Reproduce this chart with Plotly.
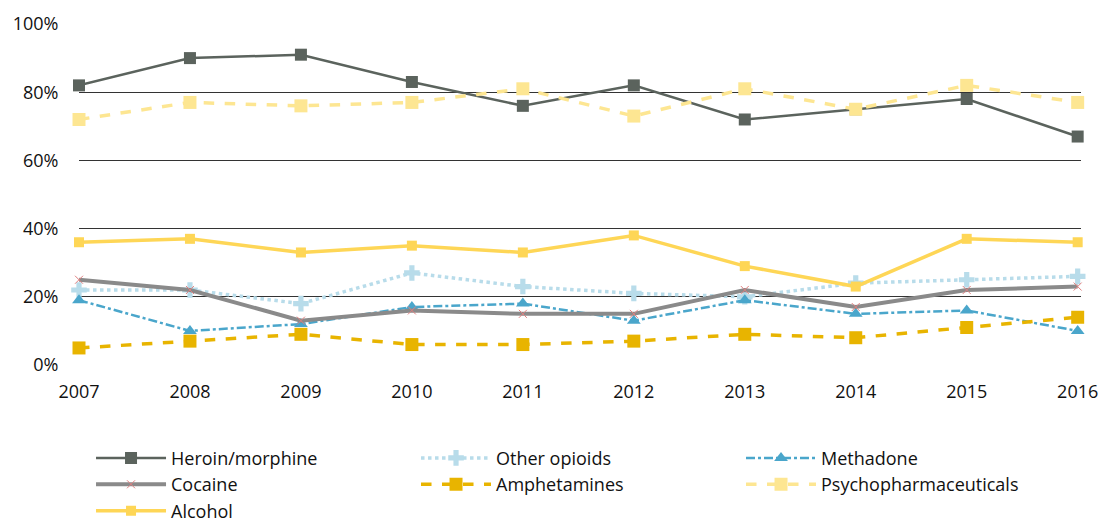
import plotly.graph_objects as go

years = [2007, 2008, 2009, 2010, 2011, 2012, 2013, 2014, 2015, 2016]
heroin = [82, 90, 91, 83, 76, 82, 72, 75, 78, 67]
other_opioids = [22, 22, 18, 27, 23, 21, 20, 24, 25, 26]
methadone = [19, 10, 12, 17, 18, 13, 19, 15, 16, 10]
cocaine = [25, 22, 13, 16, 15, 15, 22, 17, 22, 23]
amphetamines = [5, 7, 9, 6, 6, 7, 9, 8, 11, 14]
psycho = [72, 77, 76, 77, 81, 73, 81, 75, 82, 77]
alcohol = [36, 37, 33, 35, 33, 38, 29, 23, 37, 36]
y_ticks = [0, 20, 40, 60, 80, 100]
y_labels = ["0%", "20%", "40%", "60%", "80%", "100%"]

series = [
    ("Heroin/morphine", heroin, dict(color="#5b635d", width=2.5, dash="solid"), dict(symbol="square", size=12, color="#5b635d")),
    ("Other opioids", other_opioids, dict(color="#b8dcea", width=3.5, dash="dot"), dict(symbol="cross", size=13, color="#b8dcea")),
    ("Methadone", methadone, dict(color="#4aa6cb", width=2.5, dash="dashdot"), dict(symbol="triangle-up", size=12, color="#4aa6cb")),
    ("Cocaine", cocaine, dict(color="#8a8a8a", width=4, dash="solid"), dict(symbol="x-thin", size=8, color="#e08080", line=dict(color="#e08080", width=1))),
    ("Amphetamines", amphetamines, dict(color="#e8b400", width=3.5, dash="dash"), dict(symbol="square", size=13, color="#e8b400")),
    ("Psychopharmaceuticals", psycho, dict(color="#fde692", width=3.5, dash="dash"), dict(symbol="square", size=13, color="#fde692")),
    ("Alcohol", alcohol, dict(color="#fed656", width=3.5, dash="solid"), dict(symbol="square", size=10, color="#fed656")),
]

fig = go.Figure()
for name, vals, line, marker in series:
    fig.add_trace(go.Scatter(x=years, y=vals, name=name, mode="lines+markers",
                             line=line, marker=marker, cliponaxis=False))

fig.update_layout(
    width=1107, height=522,
    margin=dict(l=71, r=34, t=16, b=165, autoexpand=False),
    paper_bgcolor="white", plot_bgcolor="white",
    font=dict(family="Open Sans, Noto Sans, sans-serif", size=18, color="#111111"),
    xaxis=dict(range=[2007, 2016.03], tickvals=years, showgrid=False, zeroline=False,
               showline=False, ticks="outside", ticklen=10, tickcolor="rgba(0,0,0,0)",
               tickfont=dict(size=18)),
    yaxis=dict(range=[0, 100], tickvals=y_ticks, ticktext=y_labels, showgrid=True,
               gridcolor="#333333", gridwidth=1, zeroline=False, showline=False,
               ticks="outside", ticklen=16, tickcolor="rgba(0,0,0,0)", tickfont=dict(size=18)),
    legend=dict(orientation="h", x=0.012, y=0.173, xref="paper", yref="container",
                xanchor="left", yanchor="top",
                entrywidth=240, entrywidthmode="pixels", tracegroupgap=0,
                font=dict(size=18), itemwidth=70),
    showlegend=True,
)

fig.write_html("out.html")
